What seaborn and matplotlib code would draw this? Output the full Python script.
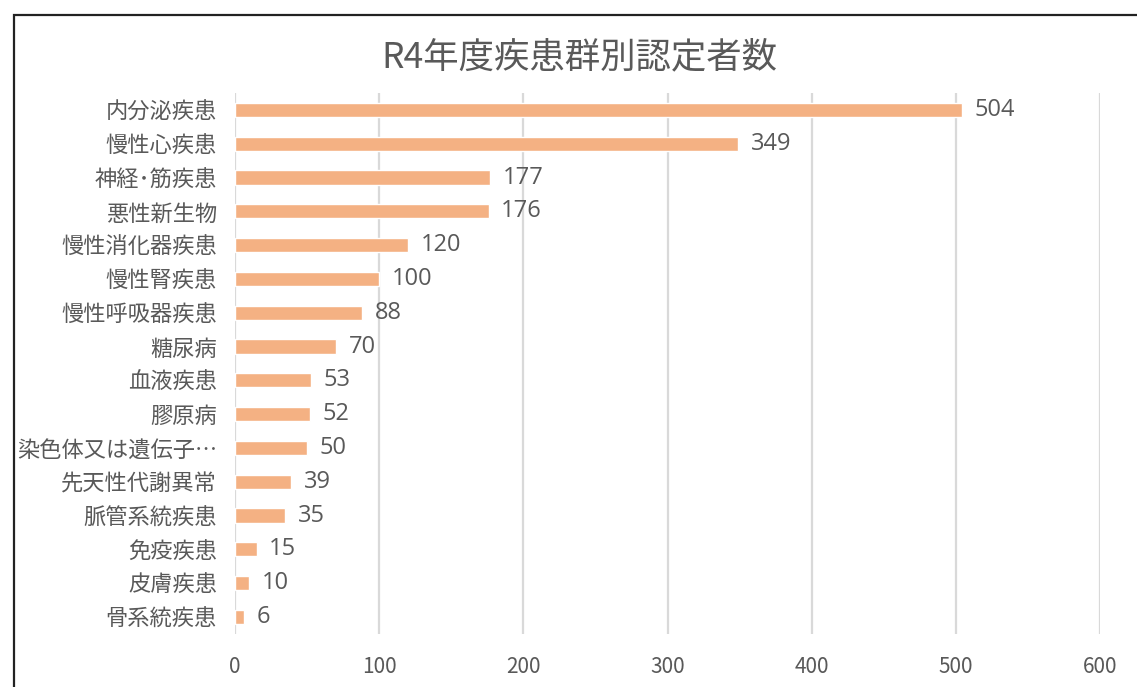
import matplotlib
matplotlib.use("Agg")
import matplotlib.pyplot as plt
import seaborn as sns
import pandas as pd
from matplotlib.patches import Rectangle

# data
categories = ["内分泌疾患", "慢性心疾患", "神経･筋疾患", "悪性新生物", "慢性消化器疾患",
              "慢性腎疾患", "慢性呼吸器疾患", "糖尿病", "血液疾患", "膠原病",
              "染色体又は遺伝子…", "先天性代謝異常", "脈管系統疾患", "免疫疾患",
              "皮膚疾患", "骨系統疾患"]
counts = [504, 349, 177, 176, 120, 100, 88, 70, 53, 52, 50, 39, 35, 15, 10, 6]
x_ticks = [0, 100, 200, 300, 400, 500, 600]
title = "R4年度疾患群別認定者数"

BAR_COLOR = "#F4B183"
TEXT_COLOR = "#595959"
GRID_COLOR = "#D9D9D9"

sns.set_theme(style="white")
plt.rcParams["font.family"] = ["Noto Sans CJK JP", "DejaVu Sans"]

df = pd.DataFrame({"category": categories, "count": counts})

fig = plt.figure(figsize=(11.37, 6.87), dpi=100)
ax = fig.add_axes([0.2067, 0.0773, 0.7608, 0.7872])

sns.barplot(data=df, x="count", y="category", orient="h", color=BAR_COLOR,
            width=0.42, ax=ax, saturation=1)

ax.set_xlim(0, 600)
ax.set_ylim(len(categories) - 0.5, -0.5)
ax.set_xticks(x_ticks)
ax.xaxis.grid(True, color=GRID_COLOR, linewidth=1.6)
ax.yaxis.grid(False)
ax.set_axisbelow(True)
for s in ax.spines.values():
    s.set_visible(False)

ax.set_xlabel("")
ax.set_ylabel("")
ax.tick_params(axis="y", length=0, pad=13, labelsize=16, labelcolor=TEXT_COLOR)
ax.tick_params(axis="x", length=0, pad=16, labelsize=15, labelcolor=TEXT_COLOR)

ax.bar_label(ax.containers[0], labels=[str(v) for v in counts], padding=9,
             fontsize=17, color=TEXT_COLOR, family=["Open Sans", "DejaVu Sans"])

fig.text(0.51, 0.917, title, ha="center", va="center", fontsize=25.5, color=TEXT_COLOR)

# outer frame of the original chart (cropped at right and bottom)
fig.patches.append(Rectangle((14 / 1137, -0.05), 1.2, 1 - 15 / 687 + 0.05,
                             transform=fig.transFigure, fill=False,
                             edgecolor="#222222", linewidth=1.6))

fig.savefig("out.png", dpi=100)
plt.close(fig)
